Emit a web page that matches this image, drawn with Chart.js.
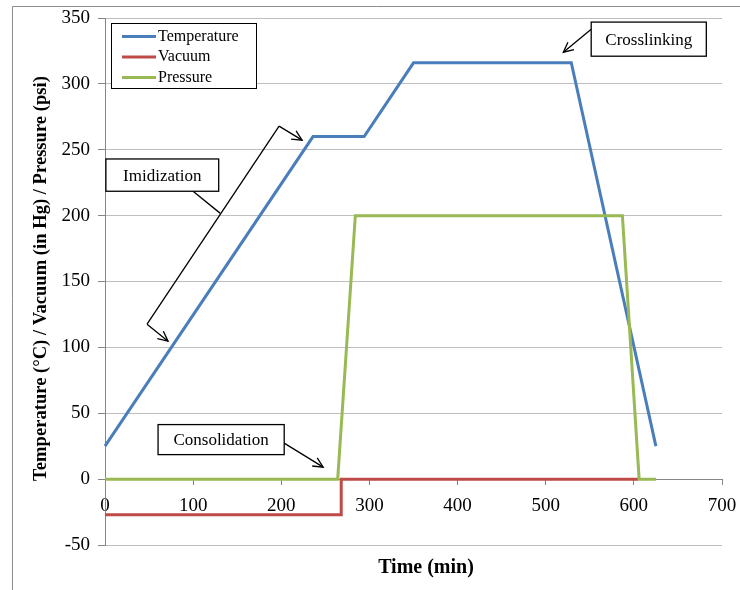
<!DOCTYPE html>
<html>
<head>
<meta charset="utf-8">
<script src="https://cdn.jsdelivr.net/npm/chart.js@4/dist/chart.umd.min.js"></script>
<style>
  html, body { margin: 0; padding: 0; background: #fff; }
  #wrap { width: 740px; height: 590px; }
</style>
</head>
<body>
<div id="wrap"><canvas id="c" width="740" height="590"></canvas></div>
<script>
// Cure cycle profile: time (min) against temperature, vacuum and pressure
const tempTime = [0, 236, 294, 350, 529, 625];
const tempValues = [25, 260, 260, 316, 316, 25];
const vacuumTime = [0, 268, 268, 605];
const vacuumValues = [-27, -27, 0, 0];
const pressureTime = [0, 264, 284, 587, 606, 625];
const pressureValues = [0, 0, 200, 200, 0, 0];
const seriesNames = ['Temperature', 'Vacuum', 'Pressure'];
const seriesColors = ['#4A7EBB', '#BE4B48', '#98B954'];
const xTickValues = [0, 100, 200, 300, 400, 500, 600, 700];
const yTickValues = [-50, 0, 50, 100, 150, 200, 250, 300, 350];
const xTitle = 'Time (min)';
const yTitle = 'Temperature (°C) / Vacuum (in Hg) / Pressure (psi)';

// Process-stage callouts, placed in axis units
const callouts = [
  { text: 'Imidization', box: [1, 243, 129, 218.5],
    lines: [[47.7, 117.6, 197.5, 267.9], [99.9, 218.5, 130.5, 201.9]],
    arrows: [[197.5, 267.9, 223.6, 257.3], [47.7, 117.6, 71.5, 104.7]] },
  { text: 'Consolidation', box: [60.2, 41.4, 203.3, 18.6],
    lines: [], arrows: [[203.3, 27.3, 247.5, 9.1]] },
  { text: 'Crosslinking', box: [551.6, 346.9, 682.2, 321],
    lines: [], arrows: [[551.6, 341.5, 520, 324]] }
];

const toPoints = (xs, ys) => xs.map((x, i) => ({ x: x, y: ys[i] }));

const SERIF = '"Liberation Serif", "Times New Roman", serif';

function drawArrow(ctx, x1, y1, x2, y2) {
  ctx.beginPath();
  ctx.moveTo(x1, y1);
  ctx.lineTo(x2, y2);
  ctx.stroke();
  const a = Math.atan2(y2 - y1, x2 - x1);
  const L = 11, s = 0.45;
  ctx.beginPath();
  ctx.moveTo(x2 - L * Math.cos(a - s), y2 - L * Math.sin(a - s));
  ctx.lineTo(x2, y2);
  ctx.lineTo(x2 - L * Math.cos(a + s), y2 - L * Math.sin(a + s));
  ctx.stroke();
}

const decor = {
  id: 'decor',
  beforeDraw(chart) {
    const ctx = chart.ctx;
    ctx.save();
    ctx.fillStyle = '#fff';
    ctx.fillRect(0, 0, chart.width, chart.height);
    ctx.strokeStyle = '#8C8C8C';
    ctx.lineWidth = 1;
    ctx.beginPath();
    ctx.moveTo(12.5, chart.height);
    ctx.lineTo(12.5, 6.5);
    ctx.lineTo(chart.width, 6.5);
    ctx.stroke();
    ctx.restore();
  },
  afterDraw(chart) {
    const ctx = chart.ctx;
    const xs = chart.scales.x, ys = chart.scales.y;
    const px = v => xs.getPixelForValue(v);
    const py = v => ys.getPixelForValue(v);
    const area = chart.chartArea;
    ctx.save();

    // axis titles
    ctx.fillStyle = '#000';
    ctx.textAlign = 'center';
    ctx.textBaseline = 'middle';
    ctx.font = 'bold 20px ' + SERIF;
    ctx.fillText(xTitle, 426, 568);
    ctx.font = 'bold 18.6px ' + SERIF;
    ctx.save();
    ctx.translate(41, (area.top + area.bottom) / 2 - 3);
    ctx.rotate(-Math.PI / 2);
    ctx.fillText(yTitle, 0, 0);
    ctx.restore();

    // legend
    const lx = 111, ly = 23, lw = 145, lh = 65;
    ctx.fillStyle = '#fff';
    ctx.fillRect(lx, ly, lw, lh);
    ctx.strokeStyle = '#000';
    ctx.lineWidth = 1;
    ctx.strokeRect(lx + 0.5, ly + 0.5, lw, lh);
    ctx.font = '16px ' + SERIF;
    ctx.textAlign = 'left';
    seriesNames.forEach((name, i) => {
      const yy = ly + 13.5 + i * 20.5;
      ctx.strokeStyle = seriesColors[i];
      ctx.lineWidth = 3;
      ctx.beginPath();
      ctx.moveTo(122, yy);
      ctx.lineTo(156, yy);
      ctx.stroke();
      ctx.fillStyle = '#000';
      ctx.fillText(name, 158, yy);
    });

    // callouts
    ctx.strokeStyle = '#000';
    ctx.lineWidth = 1.3;
    callouts.forEach(c => {
      c.lines.forEach(l => {
        ctx.beginPath();
        ctx.moveTo(px(l[0]), py(l[1]));
        ctx.lineTo(px(l[2]), py(l[3]));
        ctx.stroke();
      });
      c.arrows.forEach(a => drawArrow(ctx, px(a[0]), py(a[1]), px(a[2]), py(a[3])));
      const x0 = px(c.box[0]), y0 = py(c.box[1]), x1 = px(c.box[2]), y1 = py(c.box[3]);
      ctx.fillStyle = '#fff';
      ctx.fillRect(x0, y0, x1 - x0, y1 - y0);
      ctx.strokeRect(x0, y0, x1 - x0, y1 - y0);
      ctx.fillStyle = '#000';
      ctx.font = '17px ' + SERIF;
      ctx.textAlign = 'center';
      ctx.textBaseline = 'middle';
      ctx.fillText(c.text, (x0 + x1) / 2, (y0 + y1) / 2 + 1);
    });
    ctx.restore();
  }
};

const series = [
  { label: seriesNames[0], data: toPoints(tempTime, tempValues), color: seriesColors[0], order: 2 },
  { label: seriesNames[1], data: toPoints(vacuumTime, vacuumValues), color: seriesColors[1], order: 1 },
  { label: seriesNames[2], data: toPoints(pressureTime, pressureValues), color: seriesColors[2], order: 0 }
];

new Chart(document.getElementById('c'), {
  type: 'scatter',
  data: {
    datasets: series.map(s => ({
      label: s.label,
      data: s.data,
      showLine: true,
      borderColor: s.color,
      backgroundColor: s.color,
      borderWidth: 3,
      pointRadius: 0,
      tension: 0,
      order: s.order,
      clip: 4
    }))
  },
  options: {
    responsive: false,
    devicePixelRatio: 1,
    animation: false,
    layout: { padding: { left: 0, top: 18, right: 18, bottom: 45 } },
    plugins: { legend: { display: false }, tooltip: { enabled: false } },
    scales: {
      x: {
        type: 'linear',
        position: { y: 0 },
        min: 0, max: 700,
        afterBuildTicks: s => { s.ticks = xTickValues.map(v => ({ value: v })); },
        afterFit: s => { s.paddingLeft = 0; s.paddingRight = 0; },
        ticks: { color: '#000', font: { family: SERIF, size: 19 }, padding: 10, maxRotation: 0 },
        grid: { drawOnChartArea: false, drawTicks: true, tickLength: 5, color: '#868686' },
        border: { display: true, color: '#868686', width: 1 }
      },
      y: {
        type: 'linear',
        min: -50, max: 350,
        afterBuildTicks: s => { s.ticks = yTickValues.map(v => ({ value: v })); },
        afterFit: s => { s.width = 105; s.paddingTop = 0; s.paddingBottom = 0; },
        ticks: { color: '#000', font: { family: SERIF, size: 19 }, padding: 8 },
        grid: { color: '#BEBEBE', tickColor: '#868686', tickLength: 7, drawTicks: true },
        border: { display: true, color: '#868686', width: 1 }
      }
    }
  },
  plugins: [decor]
});
</script>
</body>
</html>
